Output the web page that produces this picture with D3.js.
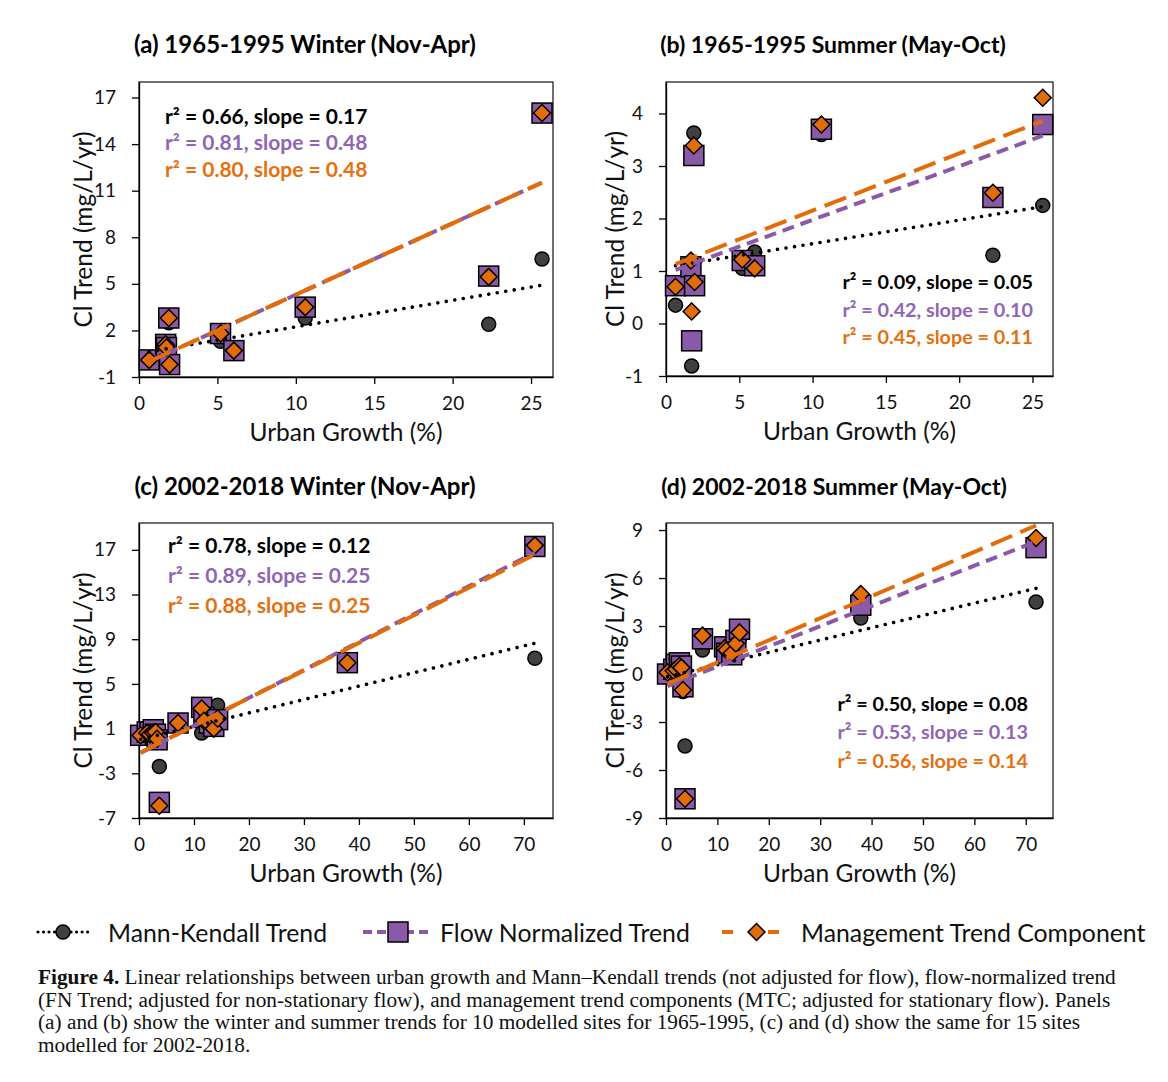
<!DOCTYPE html>
<html><head><meta charset="utf-8">
<script src="https://cdn.jsdelivr.net/npm/d3@7"></script>
<style>
body{margin:0;background:#fff}
svg{display:block}
</style>
</head><body>
<svg id="fig" width="1168" height="1082"></svg>
<script>
// ---------------- DATA ----------------
// 1965-1995: 10 modelled sites (urban growth %)
const growth6595 = [0.65, 1.7, 1.75, 1.9, 1.95, 5.2, 6.05, 10.6, 22.3, 25.7];
// 2002-2018: 15 modelled sites (urban growth %)
const growth0218 = [0.3, 1.5, 2.0, 2.6, 3.0, 3.3, 3.7, 7.1, 11.4, 11.8, 12.8, 13.6, 14.3, 37.9, 72.0];

// (a) 1965-1995 Winter
const aMK  = [0.2, 0.9, 0.7, 2.5, -0.1, 1.3, 0.8, 2.8, 2.4, 6.6];
const aFN  = [0.1, 1.1, 0.9, 2.8, -0.2, 1.8, 0.7, 3.5, 5.5, 16.0];
const aMTC = [0.1, 1.1, 0.9, 2.8, -0.2, 1.8, 0.7, 3.5, 5.45, 16.0];
// (b) 1965-1995 Summer
const bMK  = [0.35, 0.97, -0.81, 3.63, 0.85, 1.05, 1.36, 3.60, 1.30, 2.25];
const bFN  = [0.72, 1.08, -0.33, 3.20, 0.72, 1.20, 1.10, 3.70, 2.40, 3.79];
const bMTC = [0.70, 1.20, 0.23, 3.39, 0.79, 1.22, 1.05, 3.79, 2.49, 4.30];
// (c) 2002-2018 Winter
const cMK  = [0.5, 0.6, 0.9, 1.1, 0.8, 0.6, -2.4, 1.5, 0.6, 1.9, 1.4, 1.5, 3.1, 6.9, 7.3];
const cFN  = [0.4, 0.7, 0.7, 0.9, 0.5, 0.0, -5.6, 1.5, 2.9, 2.0, 1.5, 1.2, 1.8, 6.9, 17.3];
const cMTC = [0.4, 0.6, 0.5, 0.6, 0.7, 0.1, -5.9, 1.5, 2.8, 1.7, 1.4, 1.0, 1.9, 6.9, 17.4];
// (d) 2002-2018 Summer
const dMK  = [0.0, 0.3, 0.2, 0.5, 0.3, -1.1, -4.5, 1.5, 1.3, 1.2, 1.3, 1.9, 2.2, 3.5, 4.5];
const dFN  = [0.0, 0.3, 0.6, 0.7, 0.5, -0.8, -7.8, 2.2, 1.7, 1.3, 1.2, 2.1, 2.8, 4.3, 7.9];
const dMTC = [0.1, 0.2, 0.3, 0.5, 0.4, -1.0, -7.8, 2.4, 1.6, 1.5, 1.3, 1.9, 2.6, 5.0, 8.5];

// Linear trendlines [slope, intercept] for MK, FN, MTC
const aFits = [[0.171, 0.52], [0.46, -0.30], [0.46, -0.30]];
const bFits = [[0.045, 1.07], [0.102, 0.955], [0.109, 1.06]];
const cFits = [[0.12, 0.0], [0.25, -1.25], [0.247, -1.21]];
const dFits = [[0.077, -0.19], [0.126, -0.79], [0.138, -0.65]];

// r² and slope labels
const aStats = [["0.66", "0.17"], ["0.81", "0.48"], ["0.80", "0.48"]];
const bStats = [["0.09", "0.05"], ["0.42", "0.10"], ["0.45", "0.11"]];
const cStats = [["0.78", "0.12"], ["0.89", "0.25"], ["0.88", "0.25"]];
const dStats = [["0.50", "0.08"], ["0.53", "0.13"], ["0.56", "0.14"]];

const titles = ["(a) 1965-1995 Winter (Nov-Apr)", "(b) 1965-1995 Summer (May-Oct)",
                "(c) 2002-2018 Winter (Nov-Apr)", "(d) 2002-2018 Summer (May-Oct)"];
const xTicks6595 = [0, 5, 10, 15, 20, 25];
const xTicks0218 = [0, 10, 20, 30, 40, 50, 60, 70];
const aYTicks = [-1, 2, 5, 8, 11, 14, 17];
const bYTicks = [-1, 0, 1, 2, 3, 4];
const cYTicks = [-7, -3, 1, 5, 9, 13, 17];
const dYTicks = [-9, -6, -3, 0, 3, 6, 9];
const seriesNames = ["Mann-Kendall Trend", "Flow Normalized Trend", "Management Trend Component"];
const xLabel = "Urban Growth (%)";
const yLabel = "Cl Trend (mg/L/yr)";
const captionLines = [
  ["Figure 4.", " Linear relationships between urban growth and Mann\u2013Kendall trends (not adjusted for flow), flow-normalized trend"],
  ["", "(FN Trend; adjusted for non-stationary flow), and management trend components (MTC; adjusted for stationary flow). Panels"],
  ["", "(a) and (b) show the winter and summer trends for 10 modelled sites for 1965-1995, (c) and (d) show the same for 15 sites"],
  ["", "modelled for 2002-2018."]
];

// ---------------- STYLE ----------------
const FONT = "Lato, 'Open Sans', sans-serif";
const COL = {mk: "#404040", fn: "#8a5aa8", mtc: "#e36c0a", fnText: "#9065b5", mtcText: "#e4700f"};

const panels = [
  {title: titles[0], x: growth6595, ys: [aMK, aFN, aMTC], fits: aFits, stats: aStats,
   xDom: [0, 26.4], yDom: [-1, 18], xt: xTicks6595, yt: aYTicks,
   box: {l: 139, r: 553, t: 82, b: 377}, tx: 305, ty: 53, ylx: 82, tsize: 24,
   ann: {x: 165, ys: [124, 150, 177], anchor: "start", size: 21}},
  {title: titles[1], x: growth6595, ys: [bMK, bFN, bMTC], fits: bFits, stats: bStats,
   xDom: [0, 26.4], yDom: [-1, 4.6], xt: xTicks6595, yt: bYTicks,
   box: {l: 666, r: 1053, t: 82, b: 376}, tx: 833, ty: 53, ylx: 614, tsize: 23,
   ann: {x: 1033, ys: [289, 317, 344], anchor: "end", size: 19.8}},
  {title: titles[2], x: growth0218, ys: [cMK, cFN, cMTC], fits: cFits, stats: cStats,
   xDom: [0, 75.3], yDom: [-7, 19.4], xt: xTicks0218, yt: cYTicks,
   box: {l: 139, r: 553, t: 523, b: 818}, tx: 305, ty: 495, ylx: 82, tsize: 24,
   ann: {x: 168, ys: [553, 583, 613], anchor: "start", size: 21}},
  {title: titles[3], x: growth0218, ys: [dMK, dFN, dMTC], fits: dFits, stats: dStats,
   xDom: [0, 75.3], yDom: [-9, 9.44], xt: xTicks0218, yt: dYTicks,
   box: {l: 666, r: 1053, t: 523, b: 818}, tx: 834, ty: 495, ylx: 614, tsize: 23,
   ann: {x: 1028, ys: [711, 739, 768], anchor: "end", size: 19.8}}
];

const svg = d3.select("#fig");
svg.append("rect").attr("width", 1168).attr("height", 1082).attr("fill", "#fff");

function circleMarker(g, x, y) {
  g.append("circle").attr("cx", x).attr("cy", y).attr("r", 7)
    .attr("fill", COL.mk).attr("stroke", "#000").attr("stroke-width", 1.5);
}
function squareMarker(g, x, y) {
  g.append("rect").attr("x", x - 10).attr("y", y - 10).attr("width", 20).attr("height", 20)
    .attr("fill", COL.fn).attr("stroke", "#000").attr("stroke-width", 1.5);
}
function diamondMarker(g, x, y) {
  const s = 8.5;
  g.append("path").attr("d", `M${x},${y - s}L${x + s},${y}L${x},${y + s}L${x - s},${y}Z`)
    .attr("fill", COL.mtc).attr("stroke", "#000").attr("stroke-width", 1.5);
}
const markers = [circleMarker, squareMarker, diamondMarker];
const lineStyles = [
  {stroke: "#000", dash: "0.01 8.6", cap: "round", w: 3.6},
  {stroke: COL.fn, dash: "12 7", cap: "butt", w: 4},
  {stroke: COL.mtc, dash: "23 9", cap: "butt", w: 4}
];
const textCols = ["#000", COL.fnText, COL.mtcText];
const fmt = d => String(d);

panels.forEach(p => {
  const B = p.box;
  const x = d3.scaleLinear().domain(p.xDom).range([B.l, B.r]);
  const y = d3.scaleLinear().domain(p.yDom).range([B.b, B.t]);
  const g = svg.append("g");

  // title
  g.append("text").attr("x", p.tx).attr("y", p.ty).attr("text-anchor", "middle")
    .attr("font-family", FONT).attr("font-weight", "bold").attr("font-size", p.tsize)
    .attr("fill", "#000").text(p.title);

  // frame
  g.append("rect").attr("x", B.l).attr("y", B.t).attr("width", B.r - B.l).attr("height", B.b - B.t)
    .attr("fill", "none").attr("stroke", "#222").attr("stroke-width", 1.3);

  // axes
  const xa = g.append("g").attr("transform", `translate(0,${B.b})`)
    .call(d3.axisBottom(x).tickValues(p.xt).tickFormat(fmt).tickSize(7).tickPadding(13).tickSizeOuter(0));
  const ya = g.append("g").attr("transform", `translate(${B.l},0)`)
    .call(d3.axisLeft(y).tickValues(p.yt).tickFormat(fmt).tickSize(7).tickPadding(16).tickSizeOuter(0));
  [xa, ya].forEach(a => {
    a.selectAll("path,line").attr("stroke", "#000").attr("stroke-width", 1.3);
    a.selectAll("text").attr("font-family", FONT).attr("font-size", 19).attr("fill", "#111");
  });

  // axis titles
  g.append("text").attr("x", (B.l + B.r) / 2).attr("y", B.b + 64).attr("text-anchor", "middle")
    .attr("font-family", FONT).attr("font-size", 24.5).attr("fill", "#111").text(xLabel);
  g.append("text").attr("transform", `translate(${p.ylx},${(B.t + B.b) / 2}) rotate(-90)`)
    .attr("text-anchor", "middle").attr("dominant-baseline", "central")
    .attr("font-family", FONT).attr("font-size", 24.5).attr("fill", "#111").text(yLabel);

  // markers: MK circles, FN squares, MTC diamonds
  p.ys.forEach((vals, si) => {
    const mg = g.append("g");
    vals.forEach((v, i) => markers[si](mg, x(p.x[i]), y(v)));
  });

  // trend lines
  const xmin = d3.min(p.x), xmax = d3.max(p.x);
  p.fits.forEach((f, si) => {
    const st = lineStyles[si];
    const pts = [xmin, xmax].map(xv => [x(xv), y(f[0] * xv + f[1])]);
    g.append("path").attr("d", d3.line()(pts)).attr("fill", "none")
      .attr("stroke", st.stroke).attr("stroke-width", st.w)
      .attr("stroke-dasharray", st.dash).attr("stroke-linecap", st.cap);
  });

  // stats annotations
  p.stats.forEach((s, si) => {
    g.append("text").attr("x", p.ann.x).attr("y", p.ann.ys[si]).attr("text-anchor", p.ann.anchor)
      .attr("font-family", FONT).attr("font-weight", "bold").attr("font-size", p.ann.size)
      .attr("fill", textCols[si]).text(`r\u00B2 = ${s[0]}, slope = ${s[1]}`);
  });
});

// ---------------- LEGEND ----------------
const lg = svg.append("g");
const ly = 932;
const legendItems = [
  {x0: 38, x1: 88, text: 108},
  {x0: 363, x1: 433, text: 440},
  {x0: 722, x1: 791, text: 801}
];
const legendDash = ["0.01 5.5", "9 5", "11 35"];
legendItems.forEach((it, i) => {
  const st = lineStyles[i];
  lg.append("line").attr("x1", it.x0).attr("x2", it.x1).attr("y1", ly).attr("y2", ly)
    .attr("stroke", st.stroke).attr("stroke-width", i === 0 ? 3.2 : 4)
    .attr("stroke-dasharray", legendDash[i]).attr("stroke-linecap", st.cap);
  markers[i](lg, (it.x0 + it.x1) / 2, ly);
  lg.append("text").attr("x", it.text).attr("y", ly).attr("dominant-baseline", "central")
    .attr("font-family", FONT).attr("font-size", 24.8).attr("fill", "#111").text(seriesNames[i]);
});

// ---------------- CAPTION ----------------
const cg = svg.append("g");
const capY = [984, 1006.5, 1029, 1051.5];
captionLines.forEach((ln, i) => {
  const t = cg.append("text").attr("x", 38).attr("y", capY[i])
    .attr("font-family", "'Liberation Serif', serif").attr("font-size", 21.3).attr("fill", "#111");
  if (ln[0]) t.append("tspan").attr("font-weight", "bold").text(ln[0]);
  t.append("tspan").text(ln[1]);
});
</script>
</body></html>
